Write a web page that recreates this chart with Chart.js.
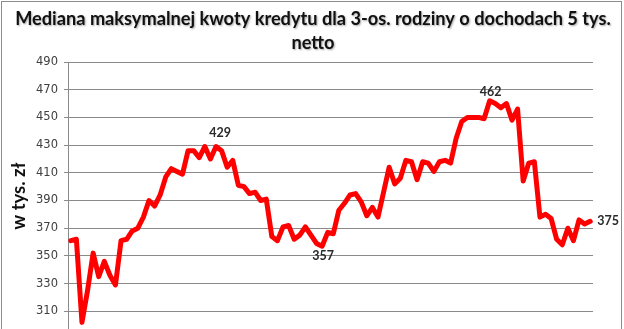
<!DOCTYPE html>
<html>
<head>
<meta charset="utf-8">
<script src="https://cdn.jsdelivr.net/npm/chart.js@4/dist/chart.umd.min.js"></script>
<style>
html,body{margin:0;padding:0;background:#fff;overflow:hidden;}
#wrap{position:relative;width:624px;height:329px;overflow:hidden;}
#frame{position:absolute;left:1px;top:1px;width:619px;height:400px;border:1px solid #8c8c8c;pointer-events:none;}
canvas{position:absolute;left:0;top:0;}
</style>
</head>
<body>
<div id="wrap"><canvas id="chart" width="624" height="360"></canvas><div id="frame"></div></div>
<script>
// dane
let titleLines = ["Mediana maksymalnej kwoty kredytu dla 3-os. rodziny o dochodach 5 tys.", "netto"];
let yTitle = "w tys. zł";
let years = ["2005","2006","2007","2008","2009","2010","2011","2012"];
let monthNames = ["sty","lut","mar","kwi","maj","cze","lip","sie","wrz","paź","lis","gru"];
let values = [361,362,302,325,352,335,346,336,329,361,
              362,368,370,378,390,386,394,407,413,411,
              409,426,426,421,429,420,429,426,414,419,
              401,400,395,396,390,391,364,361,371,372,
              362,365,371,365,359,357,367,366,383,388,
              394,395,389,379,385,378,396,414,402,406,
              419,418,405,418,417,411,418,419,417,435,
              447,450,450,450,449,462,460,457,460,448,
              456,404,417,418,378,380,377,362,358,370,
              361,376,373,375];
let markedIdx = [2, 26, 45, 75, 93];
let yTicks = {min:290, max:490, step:20};

// kategorie (miesiące)
let months = [];
years.forEach(y=>monthNames.forEach(m=>months.push(m+" "+y)));
months = months.slice(0, values.length);

// tytuł, oś Y i etykiety danych
const overlay = {
  id:"overlay",
  afterDraw(chart){
    let ctx = chart.ctx;
    ctx.save();
    ctx.textAlign = "center";
    ctx.textBaseline = "middle";
    ctx.fillStyle = "#111";
    ctx.shadowColor = "rgba(0,0,0,0.35)";
    ctx.shadowBlur = 2; ctx.shadowOffsetX = 1; ctx.shadowOffsetY = 1;
    let size = 18;
    ctx.font = "bold " + size + "px Lato";
    let w = ctx.measureText(titleLines[0]).width;
    size = size * 596 / w;
    ctx.font = "bold " + size.toFixed(2) + "px Lato";
    ctx.fillText(titleLines[0], 313, 19);
    ctx.fillText(titleLines[1], 313, 43);
    ctx.shadowColor = "transparent";

    // tytuł osi
    ctx.save();
    ctx.translate(19, 196);
    ctx.rotate(-Math.PI/2);
    ctx.font = "bold 18.5px Lato";
    ctx.fillStyle = "#111";
    ctx.fillText(yTitle, 0, 0);
    ctx.restore();

    // etykiety punktów
    let meta = chart.getDatasetMeta(0);
    let place = {2:[0,15], 26:[4,-14], 45:[1,10], 75:[1,-9], 93:[0,0]};
    ctx.font = "bold 12.5px Lato";
    ctx.fillStyle = "#2a2a2a";
    markedIdx.forEach(i=>{
      let p = meta.data[i];
      let d = place[i];
      if(i === values.length-1){
        ctx.textAlign = "left";
        ctx.fillText(String(values[i]), p.x + 7, p.y);
      } else {
        ctx.textAlign = "center";
        ctx.fillText(String(values[i]), p.x + d[0], p.y + d[1]);
      }
    });
    ctx.restore();
  }
};

let ctx = document.getElementById("chart").getContext("2d");
new Chart(ctx, {
  type:"line",
  data:{
    labels:months,
    datasets:[{
      data:values,
      borderColor:"#ff0000",
      borderWidth:5,
      pointRadius:0,
      tension:0,
      fill:false,
      borderJoinStyle:"round",
      borderCapStyle:"round"
    }]
  },
  options:{
    responsive:false,
    animation:false,
    devicePixelRatio:1,
    layout:{padding:{left:0, right:31, top:62, bottom:21}},
    plugins:{legend:{display:false}, title:{display:false}, tooltip:{enabled:false}},
    scales:{
      x:{
        offset:true,
        grid:{display:false, drawTicks:false},
        border:{display:false},
        ticks:{display:false},
        afterFit(s){ s.height = 0; }
      },
      y:{
        min:yTicks.min, max:yTicks.max,
        ticks:{stepSize:yTicks.step, color:"#404040", font:{family:"DejaVu Sans", size:11.5}, padding:6},
        grid:{color:"#8a8a8a", lineWidth:1, tickLength:4},
        border:{color:"#8a8a8a"},
        afterFit(s){ s.width = 68; }
      }
    }
  },
  plugins:[overlay]
});
</script>
</body>
</html>
